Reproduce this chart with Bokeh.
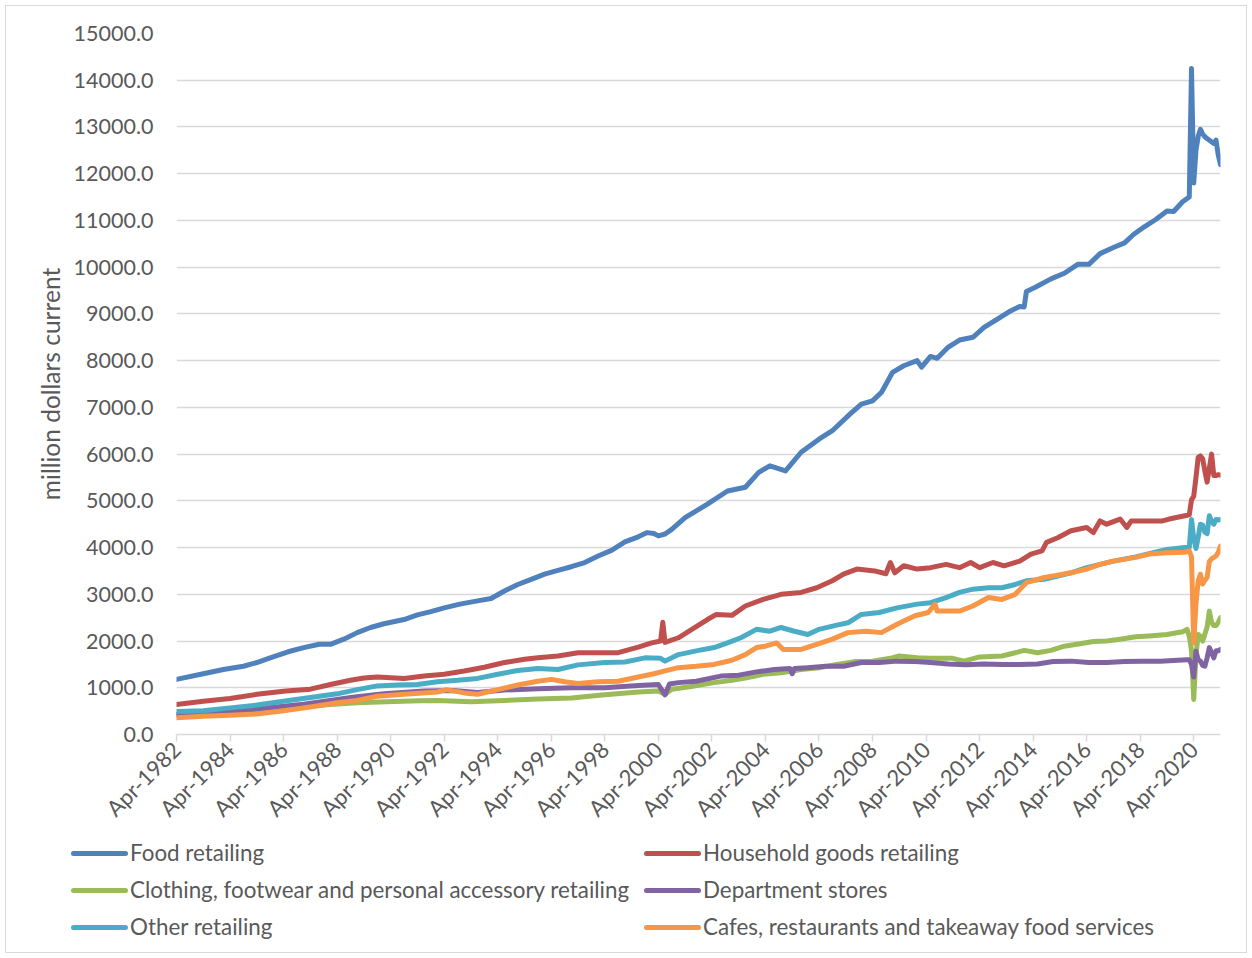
from bokeh.plotting import figure
from bokeh.layouts import column
from bokeh.models import (FixedTicker, Range1d, ColumnDataSource,
                          PrintfTickFormatter, Div)
from bokeh.embed import file_html
from bokeh.resources import INLINE

# ---------------- data (monthly series, million dollars current) ----------------
FOOD = [
    ("1982-04", 1180), ("1983-04", 1300), ("1984-01", 1390), ("1984-10", 1460),
    ("1985-04", 1540), ("1985-10", 1640), ("1986-06", 1770), ("1987-01", 1860),
    ("1987-08", 1930), ("1988-01", 1930), ("1988-07", 2040), ("1989-01", 2180),
    ("1989-07", 2290), ("1990-01", 2370), ("1990-10", 2460), ("1991-04", 2560),
    ("1991-10", 2630), ("1992-04", 2710), ("1992-11", 2790), ("1993-07", 2860),
    ("1994-01", 2910), ("1994-07", 3070), ("1995-01", 3210), ("1995-07", 3320),
    ("1996-01", 3430), ("1996-07", 3510), ("1997-01", 3590), ("1997-07", 3680),
    ("1998-01", 3820), ("1998-07", 3940), ("1999-01", 4120), ("1999-07", 4230),
    ("1999-11", 4320), ("2000-02", 4300), ("2000-04", 4250), ("2000-07", 4290),
    ("2000-10", 4390), ("2001-04", 4640), ("2002-02", 4930), ("2002-11", 5210),
    ("2003-07", 5290), ("2004-01", 5610), ("2004-06", 5750), ("2005-01", 5640),
    ("2005-08", 6040), ("2006-04", 6320), ("2006-10", 6500), ("2007-06", 6860),
    ("2007-11", 7070), ("2008-04", 7140), ("2008-08", 7320), ("2009-01", 7750),
    ("2009-06", 7890), ("2009-12", 8000), ("2010-02", 7860), ("2010-06", 8090),
    ("2010-09", 8050), ("2011-02", 8290), ("2011-07", 8440), ("2012-01", 8500),
    ("2012-06", 8710), ("2012-12", 8890), ("2013-05", 9040), ("2013-10", 9160),
    ("2013-12", 9150), ("2014-01", 9480), ("2014-05", 9570), ("2014-12", 9750),
    ("2015-06", 9870), ("2015-12", 10060), ("2016-05", 10060), ("2016-10", 10290),
    ("2017-04", 10420), ("2017-09", 10520), ("2018-01", 10700), ("2018-06", 10870),
    ("2018-11", 11020), ("2019-04", 11200), ("2019-07", 11190), ("2019-11", 11400),
    ("2020-02", 11500), ("2020-03", 14250), ("2020-04", 11800), ("2020-05", 12500),
    ("2020-06", 12800), ("2020-07", 12950), ("2020-08", 12850), ("2020-09", 12790),
    ("2020-10", 12750), ("2020-11", 12720), ("2020-12", 12680), ("2021-01", 12650),
    ("2021-02", 12720), ("2021-03", 12400), ("2021-04", 12190),
]

HOUSEHOLD = [
    ("1982-04", 640), ("1983-04", 710), ("1984-04", 770), ("1985-04", 860),
    ("1986-05", 930), ("1987-04", 970), ("1988-01", 1070), ("1988-10", 1160),
    ("1989-04", 1210), ("1989-10", 1230), ("1990-10", 1200), ("1991-07", 1250),
    ("1992-04", 1290), ("1993-01", 1360), ("1993-10", 1440), ("1994-07", 1540),
    ("1995-04", 1610), ("1995-10", 1640), ("1996-07", 1680), ("1997-04", 1750),
    ("1998-01", 1750), ("1998-10", 1750), ("1999-07", 1870), ("2000-01", 1960),
    ("2000-05", 2000), ("2000-06", 2400), ("2000-07", 1970), ("2001-01", 2070),
    ("2001-07", 2250), ("2002-02", 2460), ("2002-06", 2570), ("2003-01", 2550),
    ("2003-07", 2750), ("2004-03", 2890), ("2004-11", 3000), ("2005-08", 3040),
    ("2006-03", 3140), ("2006-10", 3290), ("2007-03", 3430), ("2007-09", 3540),
    ("2008-05", 3500), ("2008-10", 3440), ("2008-12", 3680), ("2009-02", 3460),
    ("2009-06", 3610), ("2009-12", 3540), ("2010-06", 3570), ("2011-01", 3640),
    ("2011-07", 3570), ("2011-12", 3680), ("2012-04", 3570), ("2012-10", 3680),
    ("2013-03", 3610), ("2013-10", 3710), ("2014-03", 3860), ("2014-08", 3930),
    ("2014-10", 4110), ("2015-03", 4210), ("2015-09", 4360), ("2016-04", 4430),
    ("2016-07", 4320), ("2016-10", 4570), ("2017-01", 4500), ("2017-07", 4610),
    ("2017-10", 4430), ("2017-12", 4570), ("2018-08", 4570), ("2019-02", 4570),
    ("2019-05", 4610), ("2019-12", 4680), ("2020-02", 4700), ("2020-03", 5020),
    ("2020-04", 5100), ("2020-05", 5500), ("2020-06", 5930), ("2020-07", 5960),
    ("2020-08", 5900), ("2020-09", 5640), ("2020-10", 5400), ("2020-11", 5700),
    ("2020-12", 6000), ("2021-01", 5540), ("2021-02", 5540), ("2021-03", 5560),
    ("2021-04", 5550),
]

CLOTHING = [
    ("1982-04", 420), ("1984-07", 480), ("1987-01", 600), ("1988-04", 650),
    ("1989-01", 680), ("1990-02", 700), ("1991-05", 720), ("1992-01", 730),
    ("1993-04", 700), ("1994-07", 730), ("1995-10", 760), ("1997-01", 780),
    ("1998-04", 850), ("1999-07", 910), ("2000-04", 930), ("2000-07", 860),
    ("2000-10", 970), ("2001-06", 1020), ("2002-05", 1110), ("2003-01", 1160),
    ("2003-07", 1210), ("2004-03", 1290), ("2004-11", 1320), ("2005-08", 1390),
    ("2006-04", 1430), ("2006-12", 1500), ("2007-08", 1560), ("2008-04", 1570),
    ("2008-12", 1630), ("2009-04", 1680), ("2009-12", 1640), ("2010-06", 1630),
    ("2011-04", 1630), ("2011-09", 1570), ("2012-04", 1660), ("2013-02", 1680),
    ("2013-08", 1750), ("2013-12", 1800), ("2014-06", 1750), ("2014-12", 1800),
    ("2015-06", 1890), ("2016-01", 1940), ("2016-07", 1990), ("2017-01", 2000),
    ("2017-07", 2040), ("2018-02", 2090), ("2018-08", 2110), ("2019-04", 2140),
    ("2019-11", 2200), ("2020-01", 2250), ("2020-02", 2100), ("2020-03", 1800),
    ("2020-04", 750), ("2020-05", 1700), ("2020-06", 2140), ("2020-07", 2100),
    ("2020-08", 2000), ("2020-09", 2150), ("2020-10", 2300), ("2020-11", 2640),
    ("2020-12", 2400), ("2021-01", 2330), ("2021-02", 2330), ("2021-03", 2400),
    ("2021-04", 2500),
]

DEPARTMENT = [
    ("1982-04", 430), ("1984-07", 500), ("1987-01", 650), ("1988-11", 800),
    ("1990-01", 870), ("1991-07", 930), ("1992-08", 940), ("1993-07", 900),
    ("1994-07", 950), ("1995-10", 980), ("1997-01", 1000), ("1998-04", 1000),
    ("1999-07", 1050), ("2000-04", 1070), ("2000-07", 850), ("2000-09", 1080),
    ("2001-01", 1110), ("2001-09", 1140), ("2002-08", 1250), ("2003-04", 1270),
    ("2003-12", 1340), ("2004-08", 1390), ("2005-03", 1410), ("2005-04", 1300),
    ("2005-05", 1410), ("2005-11", 1430), ("2006-07", 1460), ("2007-03", 1460),
    ("2007-11", 1540), ("2008-07", 1540), ("2009-03", 1570), ("2009-11", 1560),
    ("2010-06", 1540), ("2011-02", 1510), ("2011-10", 1490), ("2012-06", 1510),
    ("2013-02", 1500), ("2013-10", 1500), ("2014-06", 1510), ("2015-01", 1560),
    ("2015-09", 1570), ("2016-05", 1540), ("2017-01", 1540), ("2017-09", 1560),
    ("2018-05", 1570), ("2019-01", 1570), ("2019-09", 1590), ("2020-01", 1600),
    ("2020-02", 1600), ("2020-03", 1500), ("2020-04", 1230), ("2020-05", 1780),
    ("2020-06", 1600), ("2020-07", 1570), ("2020-08", 1480), ("2020-09", 1464),
    ("2020-10", 1640), ("2020-11", 1860), ("2020-12", 1750), ("2021-01", 1640),
    ("2021-02", 1790), ("2021-03", 1790), ("2021-04", 1820),
]

OTHER = [
    ("1982-04", 490), ("1983-04", 510), ("1984-04", 570), ("1985-04", 630),
    ("1986-04", 710), ("1987-04", 790), ("1988-04", 870), ("1989-01", 960),
    ("1989-10", 1040), ("1990-07", 1060), ("1991-04", 1070), ("1992-01", 1130),
    ("1992-10", 1160), ("1993-07", 1200), ("1994-04", 1290), ("1995-01", 1370),
    ("1995-10", 1410), ("1996-07", 1390), ("1997-04", 1490), ("1998-04", 1540),
    ("1999-01", 1550), ("1999-10", 1640), ("2000-05", 1630), ("2000-07", 1570),
    ("2001-01", 1710), ("2001-09", 1790), ("2002-05", 1860), ("2002-11", 1960),
    ("2003-05", 2070), ("2003-12", 2250), ("2004-06", 2210), ("2004-11", 2290),
    ("2005-05", 2210), ("2005-11", 2140), ("2006-04", 2250), ("2006-12", 2340),
    ("2007-05", 2390), ("2007-11", 2570), ("2008-07", 2610), ("2009-03", 2710),
    ("2009-12", 2790), ("2010-06", 2820), ("2011-01", 2930), ("2011-07", 3040),
    ("2012-01", 3110), ("2012-08", 3140), ("2013-02", 3140), ("2013-08", 3210),
    ("2014-01", 3290), ("2014-09", 3320), ("2015-03", 3390), ("2015-09", 3460),
    ("2016-04", 3570), ("2016-10", 3640), ("2017-04", 3710), ("2018-02", 3800),
    ("2018-08", 3870), ("2019-04", 3960), ("2019-12", 4000), ("2020-02", 4000),
    ("2020-03", 4600), ("2020-04", 4200), ("2020-05", 3980), ("2020-06", 4220),
    ("2020-07", 4500), ("2020-08", 4480), ("2020-09", 4330), ("2020-10", 4300),
    ("2020-11", 4680), ("2020-12", 4560), ("2021-01", 4500), ("2021-02", 4600),
    ("2021-03", 4590), ("2021-04", 4600),
]

CAFES = [
    ("1982-04", 360), ("1983-04", 390), ("1984-04", 410), ("1985-04", 440),
    ("1986-04", 510), ("1987-04", 590), ("1988-04", 680), ("1989-01", 730),
    ("1989-10", 820), ("1990-10", 860), ("1992-01", 910), ("1992-05", 960),
    ("1993-01", 890), ("1993-07", 860), ("1994-04", 960), ("1995-01", 1060),
    ("1995-10", 1140), ("1996-04", 1180), ("1996-10", 1130), ("1997-04", 1090),
    ("1998-01", 1130), ("1998-10", 1140), ("1999-07", 1230), ("2000-02", 1300),
    ("2000-07", 1360), ("2001-01", 1430), ("2001-09", 1460), ("2002-05", 1500),
    ("2003-01", 1590), ("2003-07", 1710), ("2003-12", 1860), ("2004-04", 1890),
    ("2004-09", 1960), ("2004-12", 1820), ("2005-08", 1820), ("2006-03", 1930),
    ("2006-10", 2040), ("2007-05", 2180), ("2008-01", 2210), ("2008-08", 2180),
    ("2009-03", 2360), ("2009-11", 2540), ("2010-05", 2610), ("2010-08", 2790),
    ("2010-09", 2640), ("2011-07", 2640), ("2012-01", 2750), ("2012-08", 2930),
    ("2013-02", 2890), ("2013-08", 3000), ("2014-01", 3250), ("2014-09", 3360),
    ("2015-03", 3410), ("2015-09", 3460), ("2016-04", 3540), ("2016-10", 3640),
    ("2017-04", 3710), ("2018-02", 3790), ("2018-08", 3860), ("2019-04", 3890),
    ("2019-12", 3900), ("2020-02", 3930), ("2020-03", 3800), ("2020-04", 1960),
    ("2020-05", 2800), ("2020-06", 3290), ("2020-07", 3430), ("2020-08", 3220),
    ("2020-09", 3300), ("2020-10", 3360), ("2020-11", 3700), ("2020-12", 3760),
    ("2021-01", 3790), ("2021-02", 3820), ("2021-03", 3900), ("2021-04", 4030),
]

SERIES_NAMES = [
    "Food retailing",
    "Household goods retailing",
    "Clothing, footwear and personal accessory retailing",
    "Department stores",
    "Other retailing",
    "Cafes, restaurants and takeaway food services",
]
SERIES_DATA = [FOOD, HOUSEHOLD, CLOTHING, DEPARTMENT, OTHER, CAFES]
SERIES_COLORS = ["#4F81BD", "#C0504D", "#9BBB59", "#8064A2", "#4BACC6", "#F79646"]

FIRST_MONTH = "1982-04"
LAST_MONTH = "2021-04"
X_TICK_LABELS = ["Apr-1982", "Apr-1984", "Apr-1986", "Apr-1988", "Apr-1990",
                 "Apr-1992", "Apr-1994", "Apr-1996", "Apr-1998", "Apr-2000",
                 "Apr-2002", "Apr-2004", "Apr-2006", "Apr-2008", "Apr-2010",
                 "Apr-2012", "Apr-2014", "Apr-2016", "Apr-2018", "Apr-2020"]
Y_TICKS = [0, 1000, 2000, 3000, 4000, 5000, 6000, 7000, 8000, 9000, 10000,
           11000, 12000, 13000, 14000, 15000]
Y_TITLE = "million dollars current"

MONTH_ABBR = {"Jan": 1, "Feb": 2, "Mar": 3, "Apr": 4, "May": 5, "Jun": 6,
              "Jul": 7, "Aug": 8, "Sep": 9, "Oct": 10, "Nov": 11, "Dec": 12}


def month_index(d):
    """Category position of a 'YYYY-MM' month, counted from the first month."""
    y0, m0 = (int(s) for s in FIRST_MONTH.split("-"))
    y, m = (int(s) for s in d.split("-"))
    return (y - y0) * 12 + (m - m0)


def label_index(lbl):
    mon, yr = lbl.split("-")
    return month_index(f"{yr}-{MONTH_ABBR[mon]:02d}")


FONT = "Lato"
TXT = "#595959"
GRID = "#d9d9d9"
LINE_W = 5

# ---------------- main chart ----------------
p = figure(width=1240, height=830, output_backend="svg", toolbar_location=None,
           x_range=Range1d(0, month_index(LAST_MONTH)), y_range=Range1d(0, 15000),
           min_border_left=170, min_border_right=26, min_border_top=27,
           min_border_bottom=102, margin=0)
p.outline_line_color = None
p.background_fill_color = "white"
p.border_fill_color = "white"

p.xgrid.visible = False
p.ygrid.grid_line_color = GRID
p.ygrid.grid_line_width = 1.5

p.yaxis.ticker = FixedTicker(ticks=Y_TICKS)
p.yaxis.formatter = PrintfTickFormatter(format="%.1f")
p.yaxis.axis_line_color = None
p.yaxis.major_tick_line_color = None
p.yaxis.minor_tick_line_color = None
p.yaxis.major_label_standoff = 17
p.yaxis.major_label_text_font = FONT
p.yaxis.major_label_text_font_size = "21.5px"
p.yaxis.major_label_text_color = TXT
p.yaxis.axis_label = Y_TITLE
p.yaxis.axis_label_text_font = FONT
p.yaxis.axis_label_text_font_size = "24.5px"
p.yaxis.axis_label_text_font_style = "normal"
p.yaxis.axis_label_text_color = TXT
p.yaxis.axis_label_standoff = 6

xt = [label_index(l) for l in X_TICK_LABELS]
p.xaxis.ticker = FixedTicker(ticks=xt)
p.xaxis.major_label_overrides = {t: l for t, l in zip(xt, X_TICK_LABELS)}
p.xaxis.major_label_orientation = 0.785398
p.xaxis.axis_line_color = GRID
p.xaxis.axis_line_width = 1.5
p.xaxis.major_tick_line_color = GRID
p.xaxis.major_tick_line_width = 1.5
p.xaxis.major_tick_out = 7
p.xaxis.major_tick_in = 0
p.xaxis.minor_tick_line_color = None
p.xaxis.major_label_standoff = 4
p.xaxis.major_label_text_font = FONT
p.xaxis.major_label_text_font_size = "22px"
p.xaxis.major_label_text_color = TXT

for data, color in zip(SERIES_DATA, SERIES_COLORS):
    src = ColumnDataSource(dict(x=[month_index(d) for d, _ in data],
                                y=[v for _, v in data]))
    p.line("x", "y", source=src, line_color=color, line_width=LINE_W,
           line_join="round", line_cap="round")

# ---------------- legend (two columns, three rows) ----------------
COL_LEFT = [65, 638]
ROW_TOP0, ROW_STEP = 5, 37
parts = []
for i, (name, color) in enumerate(zip(SERIES_NAMES, SERIES_COLORS)):
    row, col = divmod(i, 2)
    parts.append(
        f'<div style="position:absolute;left:{COL_LEFT[col]}px;'
        f'top:{ROW_TOP0 + ROW_STEP * row}px;height:24px;display:flex;'
        f'align-items:center;white-space:nowrap;">'
        f'<span style="display:inline-block;width:57px;height:5px;'
        f'border-radius:3px;background:{color};"></span>'
        f'<span style="margin-left:2px;line-height:24px;">{name}</span></div>'
    )
legend_html = (
    f'<div style="position:relative;width:1240px;height:116px;'
    f'font-family:{FONT};font-size:22.4px;color:{TXT};">' + "".join(parts) + "</div>"
)
legend_div = Div(text=legend_html, width=1240, height=116, margin=0)

layout = column(p, legend_div, spacing=0, margin=(6, 6, 6, 6),
                styles={"outline": "1px solid #d9d9d9"})

open("out.html", "w").write(file_html(layout, INLINE))
